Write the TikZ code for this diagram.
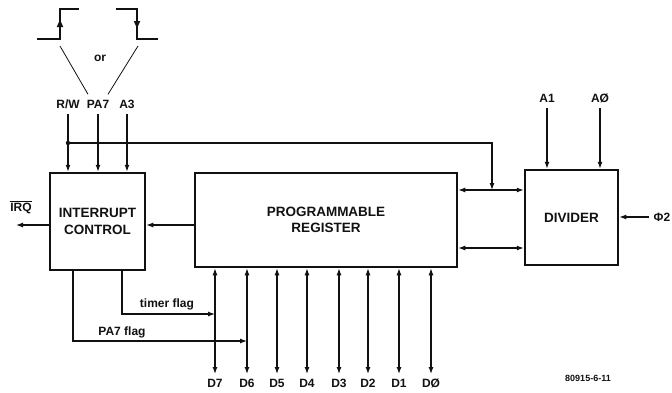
\documentclass[tikz,border=0pt]{standalone}
\usepackage{fontspec}
\setmainfont{Liberation Sans}
\usetikzlibrary{arrows.meta,calc}
\definecolor{ink}{HTML}{111111}

\tikzset{
  blk/.style={draw=ink, line width=2.5pt, fill=white, align=center, inner sep=0pt,
    font=\fontsize{13.5}{16.5}\selectfont\bfseries},
  sig/.style={inner sep=1pt, text height=9pt, text depth=1pt,
    font=\fontsize{12}{14}\selectfont\bfseries},
  wire/.style={draw=ink, line width=1.2pt},
  tip/.style={wire, -{Latex[length=7pt,width=5pt]}},
  both/.style={wire, {Latex[length=7pt,width=5pt]}-{Latex[length=7pt,width=5pt]}},
}

\begin{document}
\begin{tikzpicture}[x=1pt, y=-1pt, color=ink]
\useasboundingbox (0,0) rectangle (672,392);

% blocks
\node[blk, minimum width=95pt, minimum height=97pt] (ic) at (97.5,221.5) {INTERRUPT\\CONTROL};
\node[blk, minimum width=262pt, minimum height=94pt] (reg) at (326,220) {PROGRAMMABLE\\REGISTER};
\node[blk, minimum width=93pt, minimum height=95pt] (div) at (571.5,217.5) {DIVIDER};

% edge sketches
\draw[wire, line width=1.8pt] (37,39) -- (60,39) -- (60,9) -- (79,9);
\draw[wire, line width=1.8pt, -{Latex[length=9pt,width=7pt]}] (60,39) -- (60,18);
\draw[wire, line width=1.8pt] (116,9) -- (137,9) -- (137,39) -- (158,39);
\draw[wire, line width=1.8pt, -{Latex[length=9pt,width=7pt]}] (137,9) -- (137,30);
\node[sig] (or) at (100,57) {or};

% inputs to interrupt control
\node[sig] (rw) at (68,104) {R/W};
\node[sig] (pa) at (98,104) {PA7};
\node[sig] (aa) at (127,104) {A3};
\coordinate (rise) at (60,46);
\coordinate (fall) at (138,46);
\draw[line width=0.8pt] (rise) -- ([xshift=-10pt,yshift=3.5pt]pa.north);
\draw[line width=0.8pt] (fall) -- ([xshift=10pt,yshift=3.5pt]pa.north);
\foreach \s in {rw,pa,aa}
  \draw[tip] ([yshift=-4pt]\s.south) -- (\s.south |- ic.north);

% R/W to the divider bus
\coordinate (jn) at (rw.south |- 0,143);
\fill (jn) circle (2.2pt);
\coordinate (bus1) at (492,190);
\coordinate (bus2) at (492,248);
\draw[tip] (jn) -| (bus1);
\draw[both] (reg.east |- bus1) -- (div.west |- bus1);
\draw[both] (reg.east |- bus2) -- (div.west |- bus2);

% register to interrupt control, IRQ out
\coordinate (mid) at (0,225);
\coordinate (irqend) at (16,225);
\draw[tip] (reg.west |- mid) -- (ic.east |- mid);
\draw[tip] (ic.west |- mid) -- (irqend);
\node[sig] (irq) at (21,207) {\(\overline{\hbox{IRQ}}\)};

% divider inputs
\node[sig] (aone) at (547,98) {A1};
\node[sig] (azero) at (600,98) {AØ};
\draw[tip] ([yshift=-4pt]aone.south) -- (aone.south |- div.north);
\draw[tip] ([yshift=-4pt]azero.south) -- (azero.south |- div.north);
\node[sig] (phi) at (662,217) {Φ2};
\draw[tip] ([xshift=-4pt]phi.west) -- (div.east |- phi);

% data lines
\foreach \x/\n/\t in {215/d7/D7, 247/d6/D6, 277/d5/D5, 307/d4/D4,
                      339/d3/D3, 368/d2/D2, 399/d1/D1, 431/d0/DØ} {
  \node[sig, anchor=north] (\n) at (\x,377) {\t};
  \draw[both] (reg.south -| \n) -- ([yshift=3pt]\n.north);
}

% flags
\draw[tip] (ic.south -| 122,0) |- (d7 |- 0,314);
\draw[tip] (ic.south -| 73,0) |- (d6 |- 0,341);
\node[sig] (tf) at (167,303) {timer flag};
\node[sig] (pf) at (122,331) {PA7 flag};

\node[font=\fontsize{9}{10}\selectfont\bfseries] (fig) at (588,378) {80915-6-11};
\end{tikzpicture}
\end{document}
